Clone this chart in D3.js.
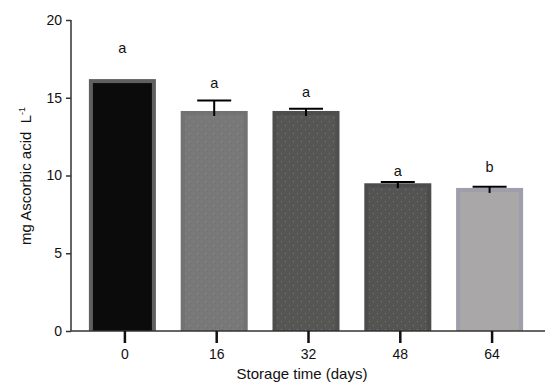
<!DOCTYPE html>
<html><head><meta charset="utf-8">
<script src="https://cdn.jsdelivr.net/npm/d3@7"></script>
<style>
body{margin:0;background:#fff;}
text{font-family:"Liberation Sans",Arial,sans-serif;fill:#111;}
</style></head>
<body><svg id="c" width="551" height="392"></svg>
<script>
const categories = ["0","16","32","48","64"];
const means = [16.2, 14.15, 14.15, 9.5, 9.2];
const errors = [0, 0.68, 0.15, 0.08, 0.07];
const letters = ["a","a","a","a","b"];
const letterLevels = [17.9, 15.6, 15.05, 9.97, 10.2];
const yTicks = [0,5,10,15,20];
const fills = ["#0b0b0b","#787878","#565654","#545452","#a9a7a7"];
const strokes = ["#606060","#727272","#4e4e4e","#4c4c4c","#9e9eac"];

const svg = d3.select("#c");
const x = d3.scaleBand().domain(categories).range([79,538]).paddingInner(0.27).paddingOuter(0.135);
const y = d3.scaleLinear().domain([0,20]).range([331,20]);
const barShift = -2.5, inset = 4;

const defs = svg.append("defs");
const pat = defs.append("pattern").attr("id","dots").attr("width",8).attr("height",8).attr("patternUnits","userSpaceOnUse");
pat.append("rect").attr("x",1).attr("y",1).attr("width",1).attr("height",1).attr("fill","#a8a890").attr("opacity",0.45);
pat.append("rect").attr("x",5).attr("y",5).attr("width",1).attr("height",1).attr("fill","#a8a890").attr("opacity",0.45);

const bw = x.bandwidth();
categories.forEach((c,i)=>{
  const bx = x(c)+barShift;
  svg.append("rect").attr("x",bx).attr("y",y(means[i])).attr("width",bw).attr("height",y(0)-y(means[i])).attr("fill",strokes[i]);
  svg.append("rect").attr("x",bx+inset).attr("y",y(means[i])+inset).attr("width",bw-2*inset).attr("height",y(0)-y(means[i])-inset).attr("fill",fills[i]);
  if(i>0) svg.append("rect").attr("x",bx+inset).attr("y",y(means[i])+inset).attr("width",bw-2*inset).attr("height",y(0)-y(means[i])-inset).attr("fill","url(#dots)");
  const cx = bx + bw/2;
  if(errors[i]>0){
    svg.append("line").attr("x1",cx).attr("x2",cx).attr("y1",y(means[i]+errors[i])).attr("y2",y(means[i])+5).attr("stroke","#000").attr("stroke-width",2);
    svg.append("line").attr("x1",cx-17).attr("x2",cx+17).attr("y1",y(means[i]+errors[i])).attr("y2",y(means[i]+errors[i])).attr("stroke","#000").attr("stroke-width",2);
  }
  svg.append("text").attr("x",cx).attr("y",y(letterLevels[i])).attr("text-anchor","middle").attr("font-size",14.5).text(letters[i]);
});

// Y axis
const ya = svg.append("g").attr("transform","translate(71,0)").call(d3.axisLeft(y).tickValues(yTicks).tickSize(5).tickPadding(4));
ya.select(".domain").attr("stroke","#333").attr("stroke-width",1.5).attr("d","M0,20V331");
ya.selectAll(".tick line").attr("stroke","#333").attr("stroke-width",1.5);
ya.selectAll(".tick text").attr("font-size",14).attr("font-family","Liberation Sans, Arial, sans-serif").attr("fill","#111");

// X axis
const xa = svg.append("g").attr("transform","translate(0,331)").call(d3.axisBottom(x).tickSize(12).tickPadding(6));
xa.select(".domain").attr("stroke","#333").attr("stroke-width",1.5).attr("d","M71,0H545");
xa.selectAll(".tick line").attr("stroke","#111").attr("stroke-width",2.5);
xa.selectAll(".tick text").attr("font-size",14).attr("font-family","Liberation Sans, Arial, sans-serif").attr("fill","#111");

svg.append("text").attr("x",302).attr("y",379).attr("text-anchor","middle").attr("font-size",15).text("Storage time (days)");
const yl = svg.append("text").attr("transform","translate(31,176) rotate(-90)").attr("text-anchor","middle").attr("font-size",15);
yl.append("tspan").text("mg Ascorbic acid\u00A0\u00A0L");
yl.append("tspan").attr("font-size",9).attr("dy",-6).text("-1");
</script></body></html>
